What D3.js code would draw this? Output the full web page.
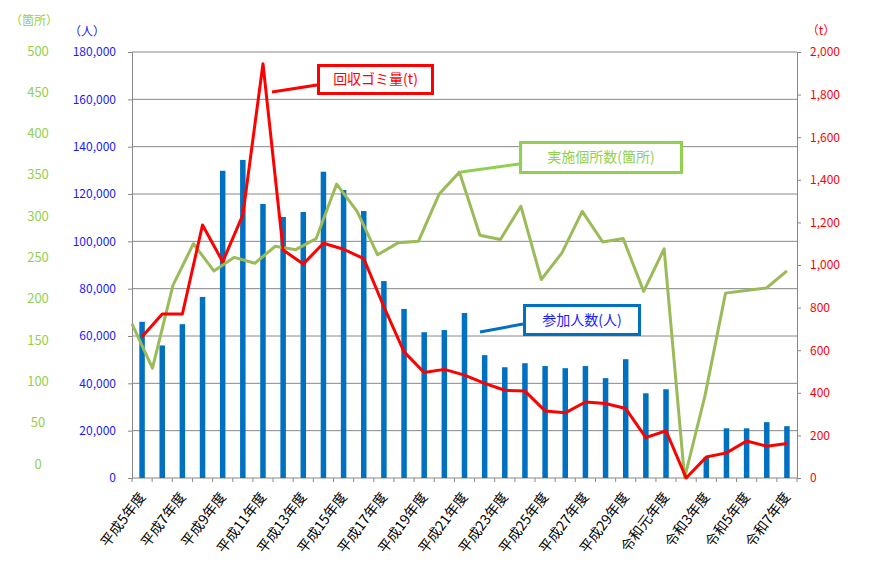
<!DOCTYPE html>
<html>
<head>
<meta charset="utf-8">
<script src="https://cdn.jsdelivr.net/npm/d3@7"></script>
<style>
  body { margin: 0; background: #fff; }
  svg { display: block; }
  text { font-family: "Noto Sans CJK JP", "Noto Sans", sans-serif; }
</style>
</head>
<body>
<svg id="chart" width="887" height="578"></svg>
<script>
"use strict";

// 年度
var years = [
  "平成5年度", "平成6年度", "平成7年度", "平成8年度", "平成9年度", "平成10年度",
  "平成11年度", "平成12年度", "平成13年度", "平成14年度", "平成15年度", "平成16年度",
  "平成17年度", "平成18年度", "平成19年度", "平成20年度", "平成21年度", "平成22年度",
  "平成23年度", "平成24年度", "平成25年度", "平成26年度", "平成27年度", "平成28年度",
  "平成29年度", "平成30年度", "令和元年度", "令和2年度", "令和3年度", "令和4年度",
  "令和5年度", "令和6年度", "令和7年度"
];

// 参加人数(人)
var participants = [
  66000, 56000, 65000, 76500, 129800, 134400, 115800, 110300, 112400, 129400,
  121700, 112800, 83200, 71400, 61600, 62500, 69700, 51900, 46800, 48500,
  47300, 46400, 47300, 42200, 50200, 35800, 37500, 0, 8900, 21000,
  21000, 23600, 21900
];

// 回収ゴミ量(t)
var garbage = [
  663, 770, 770, 1188, 1015, 1235, 1945, 1070, 1005, 1102,
  1074, 1030, 804, 592, 495, 510, 483, 444, 412, 408,
  315, 306, 357, 350, 326, 190, 221, 0, 99, 118,
  174, 149, 162
];

// 実施個所数(箇所)
var sites = [
  181, 129, 226, 275, 243, 259, 252, 272, 268, 281,
  345, 313, 262, 276, 278, 333, 359, 285, 280, 319,
  233, 264, 313, 277, 281, 219, 269, 0, 97, 217,
  220, 223, 243
];

var peopleTicks = d3.range(0, 180001, 20000);
var tonTicks = d3.range(0, 2001, 200);
var siteTicks = d3.range(0, 501, 50);

var
  svg = d3.select("#chart"),
  margin = {top: 52, right: 90, bottom: 100, left: 132},
  width = 887 - margin.left - margin.right,
  height = 578 - margin.top - margin.bottom
;

var
  blue = "#0070c0",
  red = "#ff0000",
  green = "#9bbb59",
  lblBlue = "#1a1aff",
  lblGreen = "#92d050",
  gridC = "#888888"
;

var x = d3.scaleBand().domain(years).range([0, width]);
var xs = d3.scalePoint().domain(years)
  .range([0, x(years[years.length - 1]) + x.bandwidth() / 2]);
var yP = d3.scaleLinear().domain([0, 180000]).range([height, 0]);
var yT = d3.scaleLinear().domain([0, 2000]).range([height, 0]);
var yS = d3.scaleLinear().domain([0, 500]).range([height, 0]);
// the 箇所 labels sit in a text box beside the chart, slightly off the scale
var ySLabel = d3.scaleLinear().domain([0, 500]).range([height - 14, -1]);

var plot = svg.append("g")
  .attr("transform", "translate(" + margin.left + "," + margin.top + ")");

// Gridlines
plot.append("g")
  .selectAll("line")
  .data(peopleTicks.slice(1))
  .join("line")
    .attr("x1", 0).attr("x2", width)
    .attr("y1", d => yP(d)).attr("y2", d => yP(d))
    .attr("stroke", gridC).attr("stroke-width", 1);

// Left axis (人)
var yAxisL = plot.append("g")
  .call(d3.axisLeft(yP).tickValues(peopleTicks).tickSize(4).tickPadding(12)
    .tickFormat(d3.format(",")));
yAxisL.select(".domain").attr("stroke", gridC);
yAxisL.selectAll(".tick line").attr("stroke", gridC);
yAxisL.selectAll("text").attr("fill", lblBlue).attr("font-size", 12);

// Right axis (t)
var yAxisR = plot.append("g")
  .attr("transform", "translate(" + width + ",0)")
  .call(d3.axisRight(yT).tickValues(tonTicks).tickSize(4).tickPadding(9)
    .tickFormat(d3.format(",")));
yAxisR.select(".domain").attr("stroke", gridC);
yAxisR.selectAll(".tick line").attr("stroke", gridC);
yAxisR.selectAll("text").attr("fill", red).attr("font-size", 12);

// 箇所 labels
plot.append("g")
  .selectAll("text")
  .data(siteTicks)
  .join("text")
    .attr("x", 38 - margin.left)
    .attr("y", d => ySLabel(d))
    .attr("dy", "0.35em")
    .attr("text-anchor", "middle")
    .attr("font-size", 13)
    .attr("fill", lblGreen)
    .text(d => d);

// Bottom axis
plot.append("line")
  .attr("x1", 0).attr("x2", width)
  .attr("y1", height).attr("y2", height)
  .attr("stroke", gridC);
plot.append("g")
  .selectAll("line")
  .data(d3.range(years.length + 1))
  .join("line")
    .attr("x1", i => i * x.step()).attr("x2", i => i * x.step())
    .attr("y1", height).attr("y2", height + 4)
    .attr("stroke", gridC);
plot.append("g")
  .selectAll("text")
  .data(years.filter((d, i) => i % 2 == 0))
  .join("text")
    .attr("transform", d => "translate(" + (x(d) + x.bandwidth() / 2 + 4) + "," + (height + 19) + ") rotate(-53)")
    .attr("text-anchor", "end")
    .attr("font-size", 14)
    .attr("fill", "#000")
    .text(d => d);

// Bars
var barW = 5.5;
plot.append("g")
  .selectAll("rect")
  .data(participants)
  .join("rect")
    .attr("x", (d, i) => x(years[i]) + x.bandwidth() / 2 - barW / 2)
    .attr("y", d => yP(d))
    .attr("width", barW)
    .attr("height", d => height - yP(d))
    .attr("fill", blue);

// Lines
plot.append("path")
  .datum(sites)
  .attr("fill", "none")
  .attr("stroke", green)
  .attr("stroke-width", 3)
  .attr("stroke-linejoin", "round")
  .attr("d", d3.line()
    .x((d, i) => xs(years[i]))
    .y(d => yS(d)));

plot.append("path")
  .datum(garbage)
  .attr("fill", "none")
  .attr("stroke", red)
  .attr("stroke-width", 3)
  .attr("stroke-linejoin", "round")
  .attr("d", d3.line()
    .x((d, i) => x(years[i]) + x.bandwidth() / 2)
    .y(d => yT(d)));

// Axis titles
svg.append("text").attr("x", 34).attr("y", 21).attr("dy", "0.35em")
  .attr("text-anchor", "middle").attr("font-size", 12).attr("fill", lblGreen).text("（箇所）");
svg.append("text").attr("x", 87).attr("y", 32).attr("dy", "0.35em")
  .attr("text-anchor", "middle").attr("font-size", 12).attr("fill", lblBlue).text("（人）");
svg.append("text").attr("x", 821).attr("y", 31).attr("dy", "0.35em")
  .attr("text-anchor", "middle").attr("font-size", 12).attr("fill", red).text("（t）");

// Callouts
var callouts = [
  {text: "回収ゴミ量(t)", color: red, textColor: red,
   box: [317, 64, 117, 31], from: [272, 92], to: [317, 85]},
  {text: "実施個所数(箇所)", color: "#92d050", textColor: "#92d050",
   box: [519, 141, 164, 33], from: [461, 172], to: [519, 164]},
  {text: "参加人数(人)", color: blue, textColor: "#1a1aff",
   box: [523, 304, 118, 32], from: [480, 332], to: [523, 324]}
];

var co = svg.append("g").selectAll("g").data(callouts).join("g");
co.append("line")
  .attr("x1", d => d.from[0]).attr("y1", d => d.from[1])
  .attr("x2", d => d.to[0]).attr("y2", d => d.to[1])
  .attr("stroke", d => d.color).attr("stroke-width", 3);
co.append("rect")
  .attr("x", d => d.box[0] + 1.5).attr("y", d => d.box[1] + 1.5)
  .attr("width", d => d.box[2] - 3).attr("height", d => d.box[3] - 3)
  .attr("fill", "#fff")
  .attr("stroke", d => d.color).attr("stroke-width", 3);
co.append("text")
  .attr("x", d => d.box[0] + d.box[2] / 2)
  .attr("y", d => d.box[1] + d.box[3] / 2)
  .attr("dy", "0.35em")
  .attr("text-anchor", "middle")
  .attr("font-size", 14)
  .attr("fill", d => d.textColor)
  .text(d => d.text);
</script>
</body>
</html>
